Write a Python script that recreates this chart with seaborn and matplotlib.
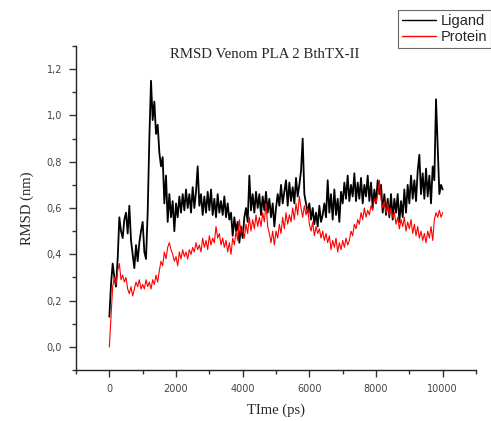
import numpy as np
import pandas as pd
import matplotlib
matplotlib.use("Agg")
import matplotlib.pyplot as plt
import seaborn as sns
from matplotlib.ticker import MultipleLocator, FuncFormatter

# time axis (ps), sampled every 50 ps
time_ps = np.arange(0, 10001, 50)

# RMSD values (nm)
ligand = [0.13, 0.27, 0.36, 0.30, 0.26, 0.38, 0.56, 0.50, 0.47, 0.55,
          0.58, 0.49, 0.61, 0.46, 0.40, 0.34, 0.44, 0.37, 0.45, 0.50,
          0.54, 0.41, 0.38, 0.58, 0.90, 1.15, 0.98, 1.06, 0.92, 0.96,
          0.84, 0.78, 0.82, 0.62, 0.74, 0.54, 0.66, 0.56, 0.63, 0.50,
          0.62, 0.56, 0.65, 0.58, 0.66, 0.59, 0.68, 0.60, 0.66, 0.58,
          0.69, 0.60, 0.67, 0.78, 0.61, 0.66, 0.57, 0.65, 0.58, 0.67,
          0.59, 0.68, 0.57, 0.64, 0.56, 0.66, 0.58, 0.63, 0.57, 0.65,
          0.56, 0.62, 0.55, 0.58, 0.48, 0.56, 0.50, 0.54, 0.45, 0.52,
          0.47, 0.56, 0.60, 0.54, 0.74, 0.59, 0.66, 0.58, 0.67, 0.60,
          0.66, 0.57, 0.65, 0.59, 0.67, 0.58, 0.64, 0.56, 0.62, 0.52,
          0.60, 0.66, 0.61, 0.70, 0.62, 0.67, 0.72, 0.61, 0.71, 0.63,
          0.69, 0.62, 0.73, 0.65, 0.70, 0.76, 0.90, 0.66, 0.62, 0.58,
          0.62, 0.55, 0.60, 0.53, 0.58, 0.52, 0.61, 0.54, 0.57, 0.62,
          0.56, 0.72, 0.58, 0.66, 0.55, 0.68, 0.57, 0.64, 0.54, 0.67,
          0.62, 0.71, 0.64, 0.74, 0.63, 0.70, 0.65, 0.75, 0.63, 0.71,
          0.64, 0.73, 0.62, 0.70, 0.65, 0.74, 0.63, 0.71, 0.60, 0.68,
          0.62, 0.72, 0.66, 0.70, 0.58, 0.66, 0.57, 0.64, 0.56, 0.66,
          0.55, 0.64, 0.58, 0.66, 0.54, 0.63, 0.56, 0.68, 0.58, 0.70,
          0.62, 0.74, 0.64, 0.72, 0.63, 0.76, 0.83, 0.66, 0.75, 0.64,
          0.77, 0.65, 0.74, 0.62, 0.78, 0.72, 1.07, 0.86, 0.66, 0.70,
          0.68]

protein = [0.00, 0.13, 0.26, 0.30, 0.27, 0.33, 0.36, 0.29, 0.31, 0.28,
           0.30, 0.25, 0.23, 0.26, 0.22, 0.25, 0.28, 0.26, 0.29, 0.25,
           0.27, 0.25, 0.29, 0.26, 0.28, 0.25, 0.29, 0.27, 0.31, 0.28,
           0.33, 0.37, 0.35, 0.41, 0.38, 0.43, 0.45, 0.42, 0.40, 0.37,
           0.39, 0.35, 0.41, 0.38, 0.42, 0.39, 0.41, 0.38, 0.42, 0.40,
           0.43, 0.41, 0.45, 0.42, 0.44, 0.41, 0.47, 0.43, 0.46, 0.42,
           0.48, 0.44, 0.47, 0.45, 0.52, 0.47, 0.49, 0.44, 0.47, 0.43,
           0.46, 0.41, 0.45, 0.40, 0.47, 0.44, 0.50, 0.46, 0.55, 0.49,
           0.51, 0.47, 0.53, 0.49, 0.56, 0.50, 0.55, 0.51, 0.57, 0.52,
           0.56, 0.52, 0.58, 0.54, 0.62, 0.52, 0.49, 0.45, 0.50, 0.44,
           0.50, 0.47, 0.53, 0.49, 0.56, 0.51, 0.58, 0.53, 0.57, 0.54,
           0.60, 0.55, 0.62, 0.57, 0.65, 0.60, 0.56, 0.61, 0.57, 0.60,
           0.53, 0.50, 0.54, 0.48, 0.52, 0.49, 0.51, 0.47, 0.50, 0.46,
           0.49, 0.45, 0.48, 0.42, 0.46, 0.43, 0.47, 0.41, 0.45, 0.42,
           0.46, 0.43, 0.47, 0.44, 0.46, 0.50, 0.48, 0.53, 0.51, 0.55,
           0.53, 0.58, 0.55, 0.60, 0.56, 0.59, 0.57, 0.61, 0.59, 0.64,
           0.62, 0.66, 0.72, 0.64, 0.60, 0.63, 0.58, 0.62, 0.57, 0.60,
           0.56, 0.58, 0.53, 0.56, 0.51, 0.55, 0.52, 0.56, 0.50, 0.54,
           0.51, 0.55, 0.49, 0.53, 0.48, 0.52, 0.47, 0.50, 0.46, 0.49,
           0.45, 0.50, 0.47, 0.52, 0.46, 0.55, 0.58, 0.56, 0.59, 0.56,
           0.58]

df = pd.DataFrame({"time": time_ps, "Ligand": ligand, "Protein": protein})

sns.set_style("ticks")
plt.rcParams["font.family"] = ["Liberation Sans", "DejaVu Sans"]

fig = plt.figure(figsize=(4.91, 4.21), dpi=100)
ax = fig.add_axes([0.1548, 0.1211, 0.8147, 0.7696])

sns.lineplot(data=df, x="time", y="Ligand", color="black", linewidth=1.3, ax=ax, label="Ligand")
sns.lineplot(data=df, x="time", y="Protein", color="red", linewidth=0.8, ax=ax, label="Protein")

ax.set_xlim(-1000, 11000)
ax.set_ylim(-0.1, 1.3)
ax.xaxis.set_major_locator(MultipleLocator(2000))
ax.xaxis.set_minor_locator(MultipleLocator(1000))
ax.yaxis.set_major_locator(MultipleLocator(0.2))
ax.yaxis.set_minor_locator(MultipleLocator(0.1))
ax.yaxis.set_major_formatter(FuncFormatter(lambda v, p: f"{v:.1f}".replace(".", ",")))
ax.tick_params(which="major", direction="out", length=5, width=1, pad=5,
               labelsize=7, colors="#333333", labelcolor="#444444")
ax.tick_params(which="minor", direction="out", length=3, width=1, colors="#333333")
for lab in ax.get_xticklabels() + ax.get_yticklabels():
    lab.set_family("DejaVu Sans")

sns.despine(ax=ax)
for s in ["left", "bottom"]:
    ax.spines[s].set_color("#222222")
    ax.spines[s].set_linewidth(1.0)

ax.set_xlabel("TIme (ps)", family="Liberation Serif", fontsize=10.5, labelpad=7)
ax.set_ylabel("RMSD (nm)", family="Liberation Serif", fontsize=10.5, labelpad=9)
fig.text(265 / 491, 1 - 55 / 421, "RMSD Venom PLA 2 BthTX-II", family="Liberation Serif",
         fontsize=10.7, ha="center", va="center")

ax.get_legend().remove()
handles, labels = ax.get_legend_handles_labels()
leg = fig.legend(handles, labels, loc="upper left", bbox_to_anchor=(398 / 491, 1 - 10 / 421),
                 fontsize=10.5, frameon=True, fancybox=False, borderpad=0.3, handlelength=2.3,
                 handletextpad=0.3, labelspacing=0.1, borderaxespad=0)
leg.get_frame().set_edgecolor("#444444")
leg.get_frame().set_linewidth(0.8)
for line in leg.get_lines():
    line.set_linewidth(1.0)

fig.savefig("out.png", dpi=100)
